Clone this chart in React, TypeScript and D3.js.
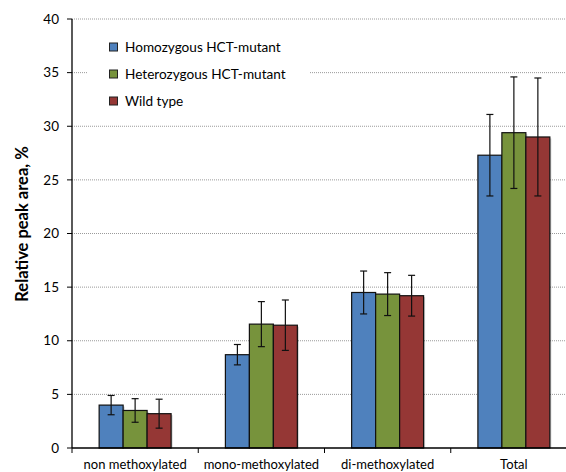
import React from "react";
import * as d3 from "d3";

const categories = ["non methoxylated", "mono-methoxylated", "di-methoxylated", "Total"];
const seriesNames = ["Homozygous HCT-mutant", "Heterozygous HCT-mutant", "Wild type"];
const seriesColors = ["#4F81BD", "#77933C", "#953735"];
const homozygous = [4.0, 8.7, 14.5, 27.3];
const heterozygous = [3.5, 11.55, 14.35, 29.4];
const wildType = [3.2, 11.45, 14.2, 29.0];
const homozygousErr = [0.9, 0.95, 2.0, 3.8];
const heterozygousErr = [1.1, 2.1, 2.0, 5.2];
const wildTypeErr = [1.35, 2.35, 1.9, 5.5];
const yTicks = [0, 5, 10, 15, 20, 25, 30, 35, 40];

const values = [homozygous, heterozygous, wildType];
const errors = [homozygousErr, heterozygousErr, wildTypeErr];

const W = 566;
const H = 472;
const left = 72;
const right = 577;
const top = 19;
const bottom = 448;
const FONT = "Lato, 'Open Sans', sans-serif";

export default function App() {
  const x = d3.scaleBand<string>().domain(categories).range([left, right]).paddingInner(0.43).paddingOuter(0.215);
  const y = d3.scaleLinear().domain([0, 40]).range([bottom, top]);
  const inner = d3.scaleBand<number>().domain([0, 1, 2]).range([0, x.bandwidth()]);
  const step = (right - left) / categories.length;
  const catBounds = d3.range(categories.length + 1).map((i) => left + i * step);

  return (
    <svg width={W} height={H} style={{ position: "absolute", left: 0, top: 0, background: "#fff" }}>
      {/* gridlines */}
      {yTicks.filter((t) => t > 0).map((t) => (
        <line key={"g" + t} x1={left} x2={W} y1={y(t)} y2={y(t)} stroke="#9a9a9a" strokeWidth={1} strokeDasharray="1,1" />
      ))}
      {/* legend box */}
      <rect x={87} y={30} width={223} height={84} fill="#fff" />
      {seriesNames.map((s, i) => (
        <g key={s} transform={`translate(109, ${47 + i * 27})`}>
          <rect x={0.5} y={-4} width={8} height={8} fill={seriesColors[i]} stroke="#222" strokeWidth={1} />
          <text x={16} y={0} dy="0.35em" fontFamily={FONT} fontSize={13.6} fill="#000">{s}</text>
        </g>
      ))}
      {/* bars */}
      {categories.map((c, ci) => (
        <g key={c}>
          {values.map((v, si) => {
            const bx = (x(c) as number) + (inner(si) as number);
            const bw = inner.bandwidth();
            return (
              <g key={si}>
                <rect x={bx + 1.5} y={y(v[ci]) + 1.5} width={bw} height={bottom - y(v[ci]) - 1.5} fill="#000" opacity={0.18} />
                <rect x={bx} y={y(v[ci])} width={bw} height={bottom - y(v[ci])} fill={seriesColors[si]} stroke="#111" strokeWidth={1.2} />
              </g>
            );
          })}
          {values.map((v, si) => {
            const cx = (x(c) as number) + (inner(si) as number) + inner.bandwidth() / 2;
            const hi = y(v[ci] + errors[si][ci]);
            const lo = y(v[ci] - errors[si][ci]);
            return (
              <g key={"e" + si} stroke="#111" strokeWidth={1.2}>
                <line x1={cx} x2={cx} y1={hi} y2={lo} />
                <line x1={cx - 3.5} x2={cx + 3.5} y1={hi} y2={hi} />
                <line x1={cx - 3.5} x2={cx + 3.5} y1={lo} y2={lo} />
              </g>
            );
          })}
        </g>
      ))}
      {/* y axis */}
      <line x1={left} x2={left} y1={top} y2={bottom} stroke="#000" strokeWidth={1.3} />
      {yTicks.map((t) => (
        <g key={"t" + t}>
          <line x1={left - 5} x2={left} y1={y(t)} y2={y(t)} stroke="#000" strokeWidth={1} />
          <text x={left - 13} y={y(t)} dy="0.35em" textAnchor="end" fontFamily={FONT} fontSize={13.5} fill="#000">{t}</text>
        </g>
      ))}
      {/* x axis */}
      <line x1={left} x2={W} y1={bottom} y2={bottom} stroke="#000" strokeWidth={1.3} />
      {catBounds.map((b, i) => (
        <line key={"xb" + i} x1={b} x2={b} y1={bottom} y2={bottom + 5} stroke="#000" strokeWidth={1} />
      ))}
      {categories.map((c) => (
        <text key={"xl" + c} x={(x(c) as number) + x.bandwidth() / 2} y={464} dy="0.35em" textAnchor="middle" fontFamily={FONT} fontSize={13} fill="#000">{c}</text>
      ))}
      <text transform={`translate(22, 224) rotate(-90)`} textAnchor="middle" dy="0.35em" fontFamily={FONT} fontSize={16.5} fontWeight="bold" fill="#000">Relative peak area, %</text>
    </svg>
  );
}
